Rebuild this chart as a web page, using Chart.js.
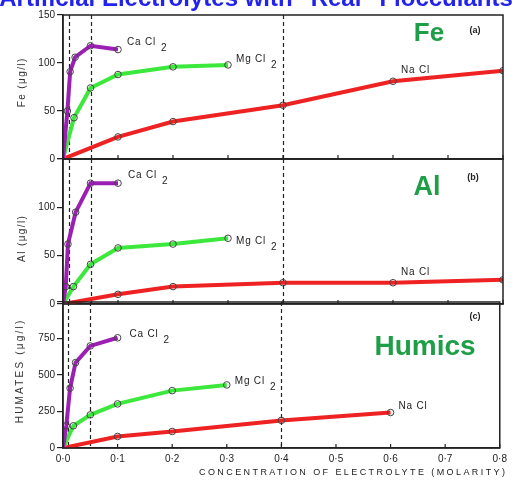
<!DOCTYPE html>
<html><head><meta charset="utf-8">
<script src="https://cdn.jsdelivr.net/npm/chart.js@4.4.1/dist/chart.umd.min.js"></script>
<style>
html,body{margin:0;padding:0;background:#fff;width:512px;height:480px;overflow:hidden;}
#wrap{position:relative;width:512px;height:480px;}
canvas{position:absolute;left:0;top:0;}
</style></head>
<body><div id="wrap">
<canvas id="ca" width="512" height="480"></canvas>
<canvas id="cb" width="512" height="480"></canvas>
<canvas id="cc" width="512" height="480"></canvas>
</div>
<script>
// ---------- data ----------
const chartTitle = 'Artificial Electrolytes with "Real" Flocculants';
const xAxisTitle = 'CONCENTRATION OF ELECTROLYTE (MOLARITY)';
const xTicks = [0, 0.1, 0.2, 0.3, 0.4, 0.5, 0.6, 0.7, 0.8];
const xTickLabels = ['0·0', '0·1', '0·2', '0·3', '0·4', '0·5', '0·6', '0·7', '0·8'];
const guideLines = [0.01, 0.05, 0.4];
const seriesNames = ['Ca Cl', 'Mg Cl', 'Na Cl'];
const seriesSubs = ['2', '2', ''];

// (a) Fe
const feCaX = [0, 0.008, 0.013, 0.022, 0.05, 0.1];
const feCaY = [0, 50, 91, 106, 118, 114];
const feMgX = [0, 0.02, 0.05, 0.1, 0.2, 0.3];
const feMgY = [0, 43, 74, 88, 96, 98];
const feNaX = [0, 0.1, 0.2, 0.4, 0.6, 0.8];
const feNaY = [0, 23, 39, 56, 81, 92];
// (b) Al
const alCaX = [0, 0.005, 0.009, 0.023, 0.05, 0.1];
const alCaY = [0, 18, 62, 95, 125, 125];
const alMgX = [0, 0.019, 0.05, 0.1, 0.2, 0.3];
const alMgY = [0, 18, 41, 58, 62, 68];
const alNaX = [0, 0.1, 0.2, 0.4, 0.6, 0.8];
const alNaY = [0, 10, 18, 22, 22, 25];
// (c) Humates
const huCaX = [0, 0.006, 0.013, 0.023, 0.05, 0.1];
const huCaY = [0, 152, 410, 585, 699, 755];
const huMgX = [0, 0.019, 0.05, 0.1, 0.2, 0.3];
const huMgY = [0, 152, 227, 302, 393, 432];
const huNaX = [0, 0.1, 0.2, 0.4, 0.6];
const huNaY = [0, 79, 113, 189, 243];

// ---------- styling ----------
const FONT = '"Liberation Sans", Arial, sans-serif';
const COLORS = ['#9c1fb4', '#3de83d', '#ee2222'];
const INK = '#222';
const BIG_GREEN = '#1f9e48';

function pts(xs, ys) { return xs.map((x, i) => ({x: x, y: ys[i]})); }

const panels = [
  {canvas: 'ca', top: 15, bottom: 159, yMax: 150, yStep: 50, hideTop: false, showX: false, xH: 0,
   yTitle: 'Fe (μg/l)', yTitlePos: [22, 83], yTitleSp: 1.4,
   big: 'Fe', bigPos: [429, 34], bigSize: 26, tagPos: [475, 31], tag: '(a)',
   series: [pts(feCaX, feCaY), pts(feMgX, feMgY), pts(feNaX, feNaY)],
   labelAt: [[5, 9, -7], [5, 8, -5.5], [4, 8, -11]]},
  {canvas: 'cb', top: 159, bottom: 304, yMax: 150, yStep: 50, hideTop: true, showX: false, xH: 0,
   yTitle: 'Al (μg/l)', yTitlePos: [22, 239], yTitleSp: 1.4,
   big: 'Al', bigPos: [427, 188], bigSize: 27, tagPos: [473, 178], tag: '(b)',
   series: [pts(alCaX, alCaY), pts(alMgX, alMgY), pts(alNaX, alNaY)],
   labelAt: [[5, 10, -8], [5, 8, 3], [4, 8, -10]]},
  {canvas: 'cc', top: 302, bottom: 448, yMax: 1000, yStep: 250, hideTop: true, showX: true, xH: 32,
   yTitle: 'HUMATES (μg/l)', yTitlePos: [20, 372], yTitleSp: 2.2,
   big: 'Humics', bigPos: [425, 347], bigSize: 28, tagPos: [475, 317], tag: '(c)',
   series: [pts(huCaX, huCaY), pts(huMgX, huMgY), pts(huNaX, huNaY)],
   labelAt: [[5, 12, -4], [5, 8, -4], [4, 8, -6.5]]}
];

function spacedText(ctx, text, x, y, spacing) {
  if ('letterSpacing' in ctx) {
    ctx.letterSpacing = spacing + 'px';
    ctx.fillText(text, x, y);
    ctx.letterSpacing = '0px';
  } else {
    let cx = x;
    for (const ch of text) { ctx.fillText(ch, cx, y); cx += ctx.measureText(ch).width + spacing; }
  }
}

function makeChart(p, idx) {
  const decor = {
    id: 'decor' + idx,
    beforeDatasetsDraw(chart) {
      const ctx = chart.ctx, a = chart.chartArea, xs = chart.scales.x;
      ctx.save();
      ctx.strokeStyle = INK; ctx.lineWidth = 1.2; ctx.setLineDash([4, 3]);
      guideLines.forEach(v => {
        const px = Math.round(xs.getPixelForValue(v)) + 0.5;
        ctx.beginPath(); ctx.moveTo(px, a.top); ctx.lineTo(px, a.bottom); ctx.stroke();
      });
      ctx.restore();
    },
    afterDraw(chart) {
      const ctx = chart.ctx, a = chart.chartArea, xs = chart.scales.x;
      ctx.save();
      // frame
      ctx.strokeStyle = INK; ctx.lineWidth = 1.5;
      ctx.strokeRect(a.left, a.top, a.right - a.left, a.bottom - a.top);
      // inward x ticks
      ctx.lineWidth = 1.2;
      xTicks.forEach(v => {
        const px = xs.getPixelForValue(v);
        ctx.beginPath(); ctx.moveTo(px, a.bottom); ctx.lineTo(px, a.bottom - 4); ctx.stroke();
      });
      // series labels
      ctx.fillStyle = INK; ctx.textBaseline = 'middle'; ctx.textAlign = 'left';
      p.labelAt.forEach((l, si) => {
        const meta = chart.getDatasetMeta(si);
        const el = meta.data[Math.min(l[0], meta.data.length - 1)];
        const x0 = el.x + l[1], y0 = el.y + l[2];
        ctx.font = '10px ' + FONT;
        spacedText(ctx, seriesNames[si], x0, y0, 0.8);
        if (seriesSubs[si]) {
          const w = ctx.measureText(seriesNames[si]).width + seriesNames[si].length * 0.8;
          spacedText(ctx, seriesSubs[si], x0 + w + 5, y0 + 6, 0);
        }
      });
      // y title
      ctx.save();
      ctx.translate(p.yTitlePos[0], p.yTitlePos[1]);
      ctx.rotate(-Math.PI / 2);
      ctx.font = '10px ' + FONT; ctx.fillStyle = '#333';
      ctx.textAlign = 'left'; ctx.textBaseline = 'middle';
      const ytw = ctx.measureText(p.yTitle).width + (p.yTitle.length - 1) * p.yTitleSp;
      spacedText(ctx, p.yTitle, -ytw / 2, 0, p.yTitleSp);
      ctx.restore();
      // big label + tag
      ctx.font = 'bold ' + p.bigSize + 'px ' + FONT; ctx.fillStyle = BIG_GREEN;
      ctx.textAlign = 'center'; ctx.textBaseline = 'middle';
      ctx.fillText(p.big, p.bigPos[0], p.bigPos[1]);
      ctx.font = 'bold 9px ' + FONT; ctx.fillStyle = INK;
      ctx.fillText(p.tag, p.tagPos[0], p.tagPos[1]);
      if (idx === 0) {
        ctx.font = 'bold 24px ' + FONT; ctx.fillStyle = '#2222ee';
        ctx.textAlign = 'center'; ctx.textBaseline = 'alphabetic';
        ctx.fillText(chartTitle, 256, 6);
      }
      if (p.showX) {
        ctx.font = '9px ' + FONT; ctx.fillStyle = INK;
        ctx.textAlign = 'left'; ctx.textBaseline = 'middle';
        const natural = ctx.measureText(xAxisTitle).width;
        const sp = (306 - natural) / (xAxisTitle.length - 1);
        spacedText(ctx, xAxisTitle, 199, 473, sp);
      }
      ctx.restore();
    }
  };

  return new Chart(document.getElementById(p.canvas), {
    type: 'line',
    data: {
      datasets: p.series.map((d, si) => ({
        label: seriesNames[si],
        data: d,
        borderColor: COLORS[si],
        borderWidth: 4,
        tension: 0,
        fill: false,
        pointRadius: c => c.dataIndex === 0 ? 0 : 3.3,
        pointBorderColor: '#444',
        pointBorderWidth: 1,
        pointBackgroundColor: 'rgba(0,0,0,0)'
      }))
    },
    options: {
      responsive: false, animation: false, devicePixelRatio: 1, events: [],
      layout: {padding: {left: 0, right: 9, top: p.top, bottom: 480 - p.bottom - p.xH}},
      plugins: {legend: {display: false}, tooltip: {enabled: false}, title: {display: false}},
      scales: {
        x: {
          type: 'linear', min: 0, max: 0.8,
          afterBuildTicks: s => { s.ticks = xTicks.map(v => ({value: v})); },
          ticks: {display: p.showX, autoSkip: false, maxRotation: 0, padding: 5, color: INK,
                  font: {size: 10, family: FONT}, callback: (v, i) => xTickLabels[i]},
          grid: {display: false, drawTicks: false},
          border: {display: true, color: INK, width: 1.5},
          afterFit: s => { s.height = p.xH; }
        },
        y: {
          type: 'linear', min: 0, max: p.yMax,
          ticks: {stepSize: p.yStep, padding: 2, color: INK, font: {size: 10, family: FONT},
                  callback: v => (p.hideTop && v === p.yMax) ? '' : String(v)},
          grid: {display: true, drawOnChartArea: false, drawTicks: true, tickLength: 6, color: INK, lineWidth: 1.2},
          border: {display: true, color: INK, width: 1.5},
          afterFit: s => { s.width = 63; }
        }
      }
    },
    plugins: [decor]
  });
}

panels.forEach((p, i) => makeChart(p, i));
</script>
</body></html>
